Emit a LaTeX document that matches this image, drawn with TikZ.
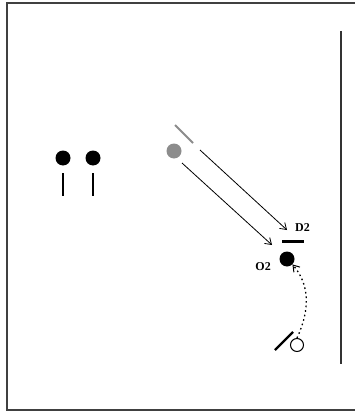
\documentclass[tikz,border=0pt]{standalone}
\usepackage{fontspec}
\setmainfont{Liberation Serif}
\usetikzlibrary{arrows.meta}
\begin{document}
\begin{tikzpicture}[x=1pt,y=-1pt,
  frameline/.style={draw=black!75,line width=2pt},
  ball/.style={circle,fill=black,inner sep=0pt,minimum size=15pt},
  grayball/.style={circle,fill=black!45,inner sep=0pt,minimum size=15pt},
  openball/.style={circle,draw=black,line width=1pt,fill=white,inner sep=0pt,minimum size=13pt},
  stick/.style={line width=2.6pt,black},
  ray/.style={line width=0.8pt,-{Straight Barb[length=6pt,width=8pt]}},
  lbl/.style={font=\bfseries\fontsize{12}{14}\selectfont,inner sep=0pt}]
\useasboundingbox (0,0) rectangle (354,412);
\fill[white] (0,0) rectangle (354,412);
% frame
\draw[frameline] (356,3) -- (7,3) -- (7,410) -- (356,410);
\coordinate (wt) at (341,31);
\coordinate (wb) at (341,364);
\draw[line width=2pt,black!80] (wt) -- (wb);
% left balls
\node[ball] (b1) at (63,158) {};
\node[ball] (b2) at (93,158) {};
\coordinate (s1a) at (63,173); \coordinate (s1b) at (63,196);
\coordinate (s2a) at (93,173); \coordinate (s2b) at (93,196);
\draw[stick] (s1a) -- (s1b);
\draw[stick] (s2a) -- (s2b);
% gray ball and mirror
\node[grayball] (g) at (174,151) {};
\coordinate (ga) at (175,125); \coordinate (gb) at (193,143);
\draw[line width=2pt,black!45] (ga) -- (gb);
% rays
\coordinate (r1s) at (200,150); \coordinate (r1e) at (287,230);
\coordinate (r2s) at (182,163); \coordinate (r2e) at (272,245);
\draw[ray] (r1s) -- (r1e);
\draw[ray] (r2s) -- (r2e);
% detector D2
\coordinate (da) at (282,241.5); \coordinate (db) at (304,241.5);
\draw[line width=2.6pt] (da) -- (db);
\node[lbl,anchor=west] (D2) at (295,228) {D2};
% O2
\node[ball] (o2) at (287,259) {};
\node[lbl,anchor=east] (O2) at (271,267) {O2};
% open ball with slash
\node[openball] (ob) at (297,345) {};
\coordinate (sa) at (275,350); \coordinate (sb) at (293,332);
\draw[line width=2.4pt] (sa) -- (sb);
% dotted path
\draw[line width=1.3pt,dash pattern=on 1.6pt off 3pt,-{Straight Barb[length=6pt,width=8pt,line width=1pt]}]
  (ob.north) .. controls (310,310) and (310,285) .. (o2.south east);
\end{tikzpicture}
\end{document}
